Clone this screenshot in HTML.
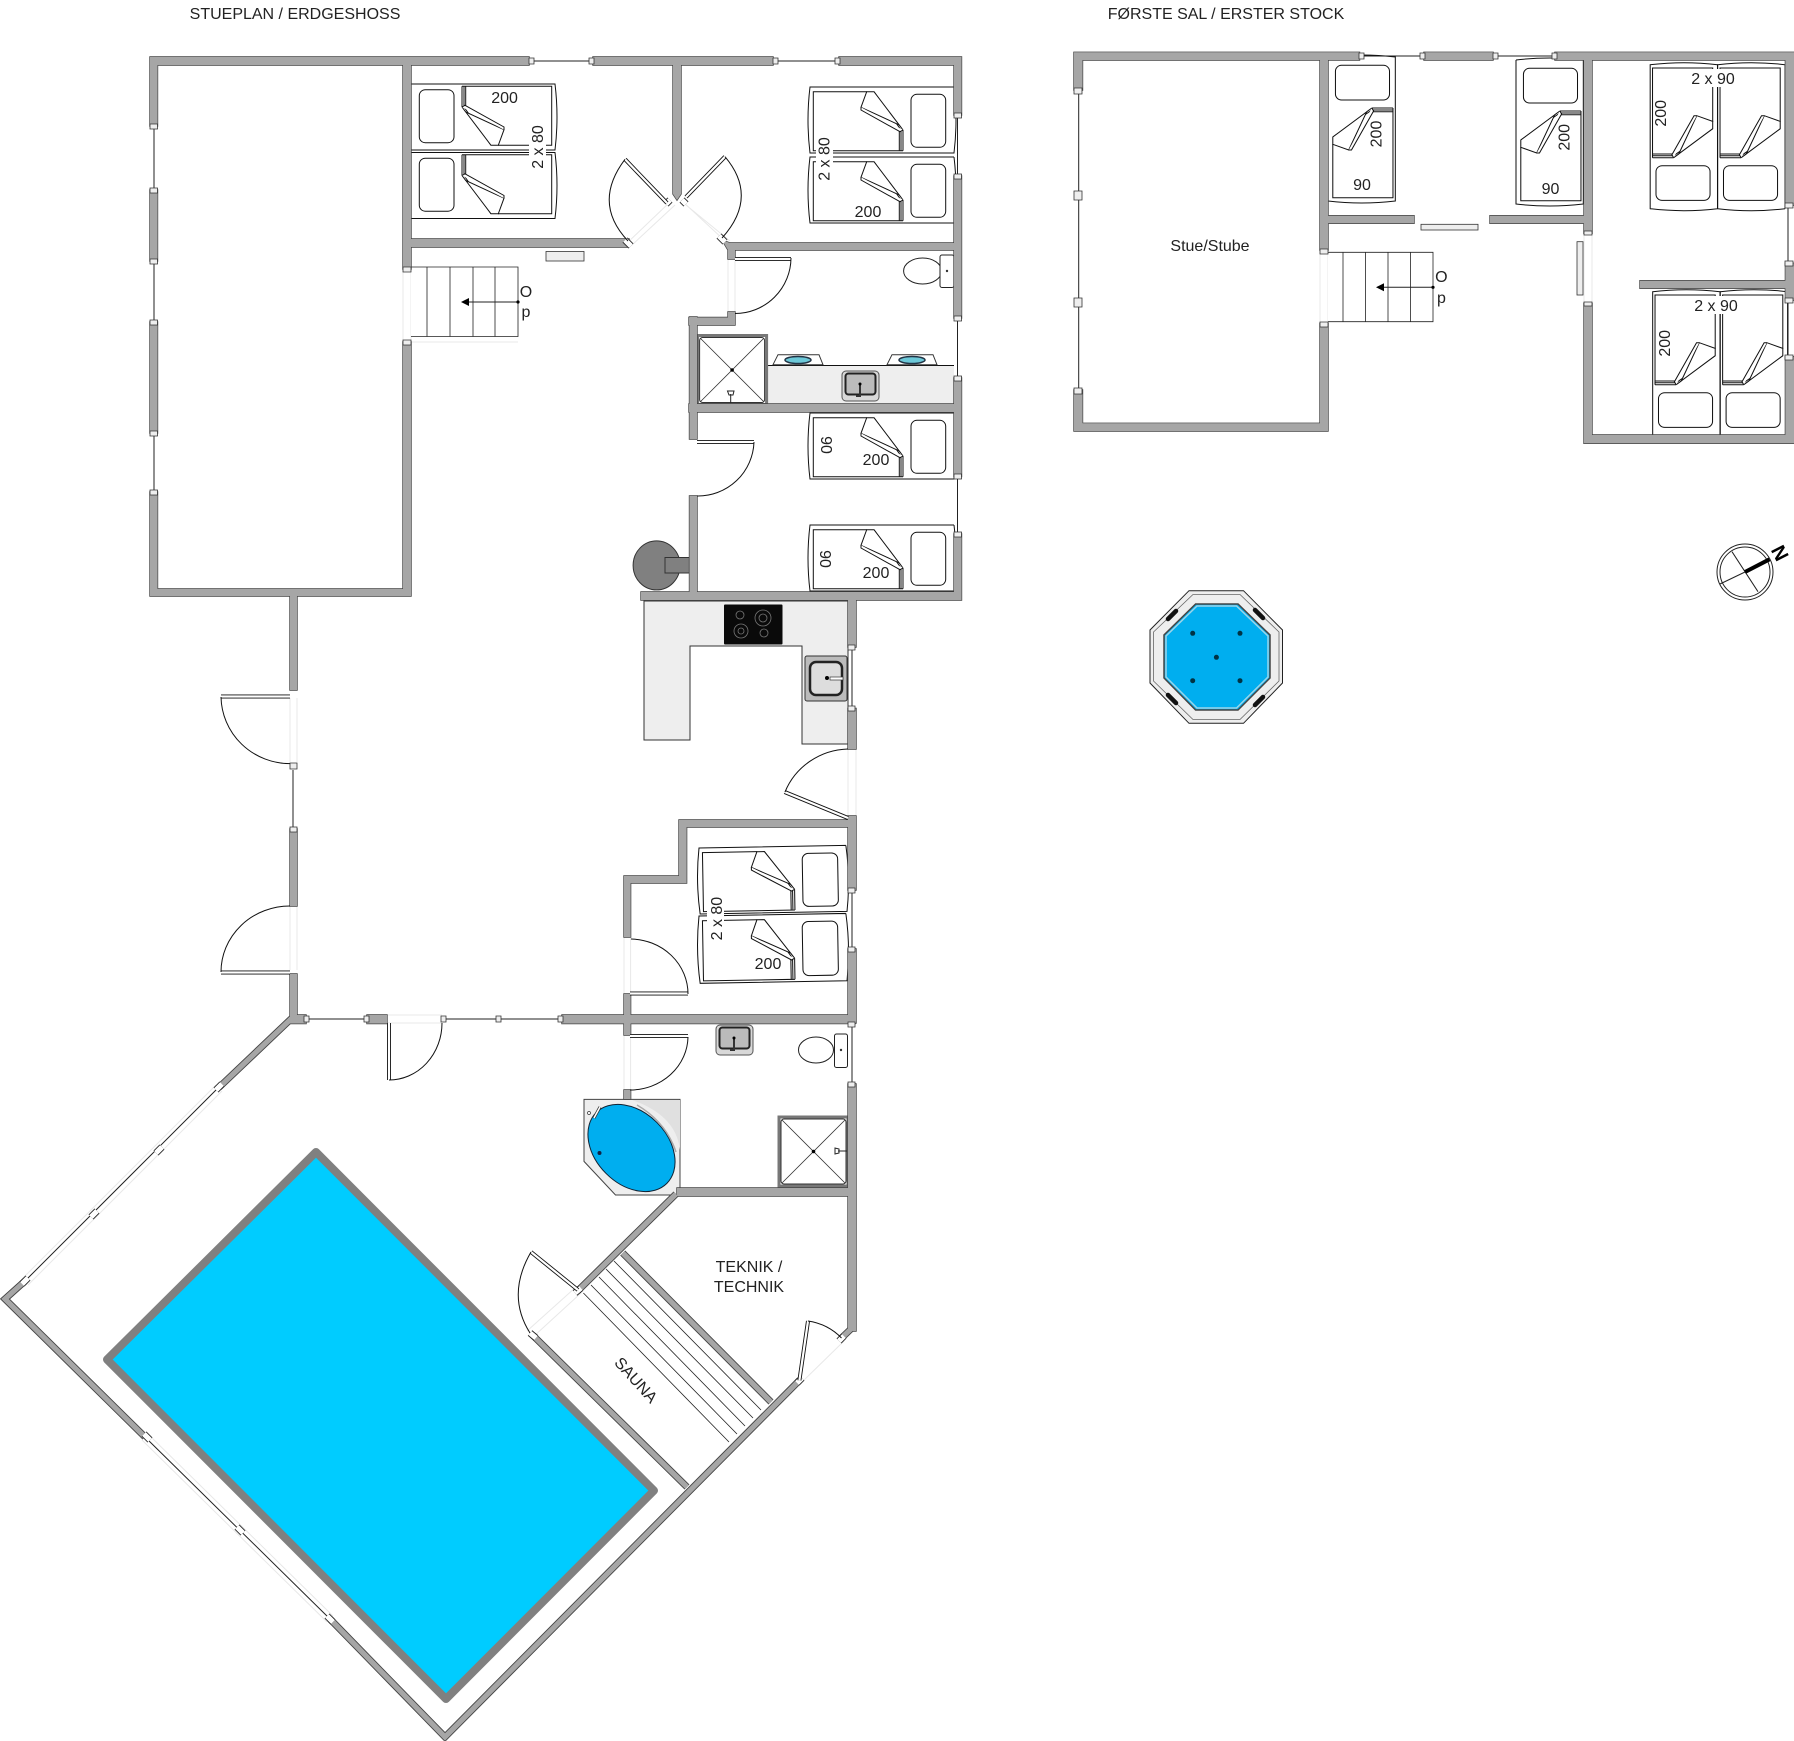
<!DOCTYPE html>
<html><head><meta charset="utf-8"><style>
html,body{margin:0;padding:0;background:#fff}
svg{display:block}
text{font-family:"Liberation Sans",sans-serif;font-size:16px;fill:#222;text-anchor:middle}
</style></head><body>
<svg width="1794" height="1741" viewBox="0 0 1794 1741" xmlns="http://www.w3.org/2000/svg">
<defs>
<g id="bed" fill="#fff" stroke="#111" stroke-width="1">
<path d="M144 0H0Q-4 33 0 66H144Q148 33 144 0" fill="none"/>
<rect x="101" y="7.3" width="34.7" height="53" rx="6"/>
<path d="M93 63.7H3.3V4.7H57M64 4.7L91 43V63.7M89.3 43V63.7M93 43V63.7" fill="none"/>
<path d="M56.7 4.7H64L93 43L89.3 38L51 20.3Z"/>
<path d="M51 20.3L51 23L90 44.7L93 43" fill="#fff"/>
</g>
<g id="shower">
<rect x="0" y="0" width="69" height="69" fill="#fff" stroke="#777" stroke-width="3"/>
<rect x="2" y="2" width="65" height="65" rx="3" fill="#fff" stroke="#333" stroke-width="1"/>
<path d="M3 3L66 66M66 3L3 66" stroke="#333" stroke-width=".8" fill="none"/>
<circle cx="34.5" cy="34.5" r="1.8" fill="#000"/>
</g>
<g id="sink">
<rect x="0" y="0" width="37" height="30" rx="4" fill="#d8d8d8" stroke="#555"/>
<rect x="3.5" y="2.5" width="30" height="21" rx="3" fill="#bbb" stroke="#222" stroke-width="2"/>
<path d="M18 14V25H14" fill="none" stroke="#333" stroke-width="2"/>
<circle cx="18" cy="13" r="1.5" fill="#000"/>
</g>
<path id="walls" d="
M150 57H529V65H150ZM593 57H773V65H593ZM839 57H961.5V65H839Z
M150 57H157.5V126H150ZM150 190H157.5V261H150ZM150 322H157.5V433H150ZM150 492H157.5V596H150Z
M150 589H411V596H150Z
M403 57H411V269H403ZM403 342H411V596H403Z
M673 65H681V194L677 200L673 194Z
M411 239H629V247H411Z
M722 240L730 243H954V250H728V259H735V250H728Z
M728 312H735V325H728ZM689 317.5H735V325H689Z
M689.5 317H697V439H689.5ZM689.5 496H697V595H689.5Z
M954 57H961.5V115H954ZM954 176H961.5V318H954ZM954 378H961.5V476.5H954ZM954 534H961.5V600H954Z
M689 404H954V412H689Z
M641 592H961.5V600H641Z
M290 596H297V690H290ZM290 829H297V906H290ZM290 974H297V1023H290Z
M290 1015H306V1023.5H290ZM367 1015H387V1023.5H367ZM562 1015H855V1023.5H562Z
M848 600H856V647H848ZM848 708.5H856V749H848ZM848 816H856V890H848ZM848 949H856V1023H848ZM848 1084H856V1331H848Z
M679 820H855V827H679ZM679 820H686.6V883H679ZM624 876H686.6V883H624ZM624 876H630.6V937H624ZM624 994H630.6V1035H624ZM624 1090H630.6V1099H624Z
M677 1188H848V1196H677Z
M1074 52.3H1359.5V60H1074ZM1424 52.3H1493V60H1424ZM1555 52.3H1794V60H1555Z
M1074 52.3H1082.5V90H1074ZM1074 390H1082.5V431H1074Z
M1074 423.3H1328V431H1074Z
M1320 52.3H1328V250H1320ZM1320 323.3H1328V431H1320Z
M1328 215.7H1414V223.3H1328ZM1490 215.7H1592V223.3H1490Z
M1584 52.3H1592V233.3H1584ZM1584 303.3H1592V443.3H1584Z
M1584 435H1794V443.3H1584Z
M1785.4 52.3H1794V205H1785.4ZM1785.4 263.3H1794V300H1785.4ZM1785.4 356.7H1794V443.3H1785.4Z
M1640 280.7H1790V288.3H1640Z"/>
<path id="diag" fill="none" stroke-linejoin="miter" d="
M292 1018L219 1087.4M25 1281L5 1299L145 1437M330 1619L445 1737L799.4 1380.4M841.5 1338L852 1328
M676 1194L578 1290.6M533 1335.5L687 1487M622.7 1253L771 1402"/>
<path id="leaves" fill="none" d="
M667 203L625 159.3M686 197L725 156.7
M735 259H791M697 442H754
M290 696.5H221M290 972.5H221M389 1023V1080
M630 993.5H688M630 1036H688
M848 818L784.6 792M578 1290L531 1252M799.4 1380.4L808 1321"/>
<path id="dcaps" fill="none" d="
M216 1090L222 1084M156 1153L162 1147M91 1217L97 1211M22 1284L28 1278
M144 1434L150 1440M237 1527L243 1533M327 1616L333 1622
M666 204L670 200M682 200L686 204M625 240L631 246M719 236L725 242M575 1293L581 1288M530 1333L536 1338M797 1383L802 1378M839 1341L844 1336"/>
</defs>

<!-- pool -->
<polygon points="316,1152 107,1359.5 446,1699 654,1490.6" fill="#00ccff" stroke="#808080" stroke-width="8" stroke-linejoin="round"/>

<!-- faint opening lines -->
<path fill="none" stroke="#e8e8e8" stroke-width="1" d="M403 269V342M411 269V342M728 259V312M735 259V312M625 245L670 202M632 245L675 205M725 241L681 200M730 241L686 205M290 698V762M297 698V762M290 906V970M297 906V970M848 749V816M856 749V816M624 937V994M630.6 937V994M624 1035V1090M630.6 1035V1090M387 1015H442M387 1023H442M527 1331L576 1287M533 1337L581 1293M800 1384L844 1341M1320 250V323M1328 250V323M1584 233V303M1592 233V303M403 269H518M411 342H518M216 1085L22 1279M222 1091L28 1285M148 1434L333 1616M142 1440L327 1622"/>

<!-- windows -->
<path fill="none" stroke="#222" stroke-width="1" d="M154 126V190M154 261V322M154 433V492M529 61H593M773 61H839M957.5 115V176M957.5 318V378M957.5 476V534M293 770V829M306 1019H367M442 1019H562M852 647V708M852 890V949M852 1023V1084M219 1087L25 1281M145 1437L330 1619M1078.7 90V390M1359 56H1424M1493 56H1555M1788 205V263M1788 300V357"/>

<!-- counters -->
<path d="M644 601H848V744H802V646H690V740H644Z" fill="#eee" stroke="#333" stroke-width="1"/>
<rect x="766" y="366" width="188" height="38" fill="#eee" stroke="none"/>
<path d="M766 365.5H954" stroke="#111" stroke-width="1"/>
<path d="M778 354.7H819L823 364.7H773Z" fill="#fff" stroke="#333"/>
<path d="M892 354.7H933L937 364.7H887Z" fill="#fff" stroke="#333"/>
<ellipse cx="798" cy="360" rx="13" ry="3.5" fill="#6cc8d8" stroke="#234" stroke-width="1.5"/>
<ellipse cx="912" cy="360" rx="13" ry="3.5" fill="#6cc8d8" stroke="#234" stroke-width="1.5"/>
<use href="#sink" transform="translate(842,371)"/>
<use href="#sink" transform="translate(716,1025)"/>
<!-- kitchen sink -->
<rect x="805" y="656" width="42" height="45" rx="2" fill="#bbb" stroke="#333"/>
<rect x="810" y="662" width="32" height="33" rx="6" fill="#ddd" stroke="#222" stroke-width="2.5"/>
<circle cx="827" cy="678" r="2" fill="#000"/>
<rect x="830" y="677" width="13" height="3" fill="#fff" stroke="#333" stroke-width=".7"/>
<!-- hob -->
<rect x="724" y="604.5" width="58.5" height="40" rx="1" fill="#0a0a0a"/>
<g fill="none" stroke="#777" stroke-width=".8">
<circle cx="740" cy="615" r="4"/><circle cx="763" cy="618" r="8"/><circle cx="763" cy="618" r="4"/><circle cx="741" cy="631" r="7"/><circle cx="741" cy="631" r="3"/><circle cx="764" cy="633" r="4"/>
</g>

<!-- stairs -->
<g fill="#fff" stroke="#222" stroke-width=".8">
<rect x="411" y="267" width="107" height="69.5" stroke="none"/>
<path d="M411 267H518V336.5H411M427 267V336.5M450 267V336.5M473 267V336.5M495 267V336.5" fill="none"/>
<rect x="1328" y="252.3" width="105" height="69.4" stroke="none"/>
<path d="M1328 252.3H1433V321.7H1328M1343 252.3V321.7M1365.6 252.3V321.7M1388 252.3V321.7M1410.5 252.3V321.7" fill="none"/>
</g>
<path d="M518 302H466M1433 287.3H1382" stroke="#222" stroke-width="1"/>
<path d="M461 302L469 298V306ZM1376 287.3L1384 283.3V291.3Z" fill="#000"/>
<circle cx="518" cy="302" r="1.6" fill="#000"/><circle cx="1433" cy="287.3" r="1.6" fill="#000"/>

<!-- beds ground -->
<use href="#bed" transform="translate(555,150) rotate(180)"/>
<use href="#bed" transform="translate(555,218.5) rotate(180)"/>
<use href="#bed" transform="translate(810,87)"/>
<use href="#bed" transform="translate(810,157)"/>
<use href="#bed" transform="translate(810,413)"/>
<use href="#bed" transform="translate(810,525)"/>
<use href="#bed" transform="translate(699,848) rotate(-1) scale(1.02,1)"/>
<use href="#bed" transform="translate(699,916) rotate(-1) scale(1.02,1.02)"/>
<!-- beds upper -->
<use href="#bed" transform="translate(1328,201) rotate(-90) scale(1,1.02)"/>
<use href="#bed" transform="translate(1516,204) rotate(-90) scale(1,1.02)"/>
<use href="#bed" transform="translate(1717.5,64.7) rotate(90) scale(1,1.02)"/>
<use href="#bed" transform="translate(1785,64.7) rotate(90) scale(1,1.02)"/>
<use href="#bed" transform="translate(1720,291.7) rotate(90) scale(1,1.02)"/>
<use href="#bed" transform="translate(1787.6,291.7) rotate(90) scale(1,1.02)"/>

<!-- showers -->
<use href="#shower" transform="translate(697.6,335.5)"/>
<path d="M730.7 394V403M727.5 391H734L733 395H729Z" fill="#fff" stroke="#222"/>
<use href="#shower" transform="translate(779,1117)"/>
<path d="M847 1151H838M835 1148V1154L839 1153V1149Z" fill="#fff" stroke="#222"/>
<!-- toilets -->
<g fill="#fff" stroke="#222">
<ellipse cx="922.6" cy="271" rx="19" ry="13"/><rect x="940" y="255" width="14" height="32.5" rx="2"/>
<ellipse cx="816" cy="1050" rx="17.5" ry="13"/><rect x="834.5" y="1034" width="13" height="33.5" rx="2"/>
</g>
<circle cx="947" cy="271" r="1.2" fill="#333"/><circle cx="841" cy="1050" r="1.2" fill="#333"/>
<!-- tub -->
<polygon points="584,1099.4 680,1099.4 680,1195 615.5,1195 584,1161.4" fill="#eee" stroke="#444" stroke-width="1"/>
<path d="M632 1100H680V1150Q676 1115 632 1100Z" fill="#e0e0e0"/>
<ellipse cx="631.5" cy="1148" rx="50" ry="36" transform="rotate(45 631.5 1148)" fill="#00aeef" stroke="#123" stroke-width="1"/>
<path d="M637 1105Q666 1122 676 1152" fill="none" stroke="#aaa" stroke-width="1.5"/>
<path d="M594 1118L600 1107" stroke="#333" stroke-width="3"/>
<path d="M594 1118L600 1107" stroke="#fff" stroke-width="1.5"/>
<circle cx="589" cy="1113" r="1.5" fill="#fff" stroke="#333" stroke-width=".7"/>
<circle cx="599.5" cy="1153" r="2" fill="#124"/>

<!-- heater -->
<ellipse cx="656.6" cy="565.4" rx="23.5" ry="24.5" fill="#808080" stroke="#333"/>
<rect x="665" y="557.5" width="27" height="15.5" fill="#808080" stroke="#333"/>

<!-- sauna bench -->
<path fill="none" stroke="#222" stroke-width=".8" d="M614 1261L761 1410M606 1269L753 1418M599 1277L745 1426M591 1285L737 1434M583.4 1293L729 1442"/>

<!-- walls -->
<use href="#walls" fill="#444" stroke="#444" stroke-width="1.4"/>
<use href="#diag" stroke="#444" stroke-width="7"/>
<use href="#walls" fill="#a6a6a6"/>
<use href="#diag" stroke="#a6a6a6" stroke-width="5.2"/>

<!-- small wall-rects -->
<g fill="#eee" stroke="#333" stroke-width=".8">
<rect x="546" y="251.5" width="38" height="9.5"/>
<rect x="1421" y="224.3" width="57" height="5.7"/>
<rect x="1577" y="241.7" width="6" height="53.3"/>
</g>
<!-- window caps -->
<path fill="#eee" stroke="#333" stroke-width=".8" d="
M150 124h7.5v5h-7.5ZM150 188h7.5v5h-7.5ZM150 259h7.5v5h-7.5ZM150 320h7.5v5h-7.5ZM150 431h7.5v5h-7.5ZM150 490h7.5v5h-7.5Z
M529 58h5v6h-5ZM589 58h5v6h-5ZM773 58h5v6h-5ZM835 58h5v6h-5Z
M954 113h7.5v5h-7.5ZM954 174h7.5v5h-7.5ZM954 316h7.5v5h-7.5ZM954 376h7.5v5h-7.5ZM954 474h7.5v5h-7.5ZM954 532h7.5v5h-7.5Z
M403 267h8v5h-8ZM403 340h8v5h-8Z
M290 763h7v6h-7ZM290 827h7v5h-7ZM304 1016h5v6h-5ZM364 1016h5v6h-5ZM441 1016h5v6h-5ZM496 1016h5v6h-5ZM558 1016h5v6h-5Z
M848 645h7v5h-7ZM848 706h7v5h-7ZM848 888h7v5h-7ZM848 947h7v5h-7ZM848 1022h7v5h-7ZM848 1082h7v5h-7Z
M1074 88h8v6h-8ZM1074 191h8v9h-8ZM1074 298h8v9h-8ZM1074 388h8v6h-8Z
M1359 53h5v6h-5ZM1420 53h5v6h-5ZM1493 53h5v6h-5ZM1552 53h5v6h-5Z
M1320 249h8v5h-8ZM1320 322h8v5h-8ZM1584 231h8v4h-8ZM1584 302h8v4h-8ZM1785 203h8v5h-8ZM1785 261h8v5h-8ZM1785 298h8v5h-8ZM1785 355h8v5h-8Z"/>
<use href="#dcaps" stroke="#222" stroke-width="7"/>
<use href="#dcaps" stroke="#fff" stroke-width="5.2"/>

<!-- door leaves and arcs -->
<use href="#leaves" stroke="#111" stroke-width="4"/>
<use href="#leaves" stroke="#fff" stroke-width="2.2"/>
<path fill="none" stroke="#111" stroke-width="1" d="
M625 159.3Q592 203 628 241M725 156.7Q759 197 722 238
M791 258A56 56 0 0 1 735 313.5M754 442A56 56 0 0 1 697 496
M221 697A69 68 0 0 0 290 763.6M290 906A69 66 0 0 0 221 972
M389 1080A53 57 0 0 0 442 1023
M631 939A58 55 0 0 1 688 994M688 1037A58 54 0 0 1 630 1090
M848 749A70 68 0 0 0 785 792
M531 1252Q506 1295 530 1333M808 1321Q828 1324 841.5 1338"/>

<!-- spa -->
<polygon points="1189,590.7 1243.5,590.7 1282.5,630 1282.5,683 1243.5,723.3 1189,723.3 1150,683 1150,630" fill="#eee" stroke="#222" stroke-width="1"/>
<polygon points="1193,594.5 1240,594.5 1279,632 1279,681 1240,719.5 1193,719.5 1153.5,681 1153.5,632" fill="none" stroke="#666" stroke-width=".8"/>
<polygon points="1195.6,604 1238,604 1270,635 1270,678 1238,710 1195.6,710 1164,678 1164,635" fill="#00aeef" stroke="#444" stroke-width="1.5"/>
<polygon points="1197,606 1236.5,606 1268,636 1268,677 1236.5,708 1197,708 1166,677 1166,636" fill="none" stroke="#9cd4e8" stroke-width="1.5"/>
<g fill="#034"><circle cx="1192.7" cy="633.3" r="2.5"/><circle cx="1240" cy="633.3" r="2.5"/><circle cx="1216.4" cy="657.3" r="2.5"/><circle cx="1192.7" cy="680.7" r="2.5"/><circle cx="1240" cy="680.7" r="2.5"/></g>
<g stroke="#111" stroke-width="4.5" stroke-linecap="round"><path d="M1168 619L1176 611M1255 610L1263 618M1168 695L1176 703M1255 705L1263 697"/></g>

<!-- compass -->
<g fill="none" stroke="#222" stroke-width="1"><circle cx="1745" cy="572" r="28"/><circle cx="1745" cy="572" r="25"/><path d="M1732 551.7L1758 591.7M1720 584L1745 572"/></g>
<path d="M1745 572L1769.5 559.3" stroke="#000" stroke-width="4"/>
<text transform="translate(1780,553) rotate(63) translate(0,7)" style="font-weight:bold;font-size:20px;fill:#000">N</text>

<!-- labels -->
<text x="295" y="19">STUEPLAN / ERDGESHOSS</text>
<text x="1226" y="19">FØRSTE SAL / ERSTER STOCK</text>
<text x="1210" y="251">Stue/Stube</text>
<text x="526" y="297">O</text><text x="526" y="317">p</text>
<text x="1441.4" y="282">O</text><text x="1441.4" y="303">p</text>
<text x="504.6" y="103">200</text>
<text x="868" y="217">200</text>
<text x="876" y="465">200</text>
<text x="876" y="578">200</text>
<text x="768" y="969">200</text>
<text x="1362" y="190">90</text>
<text x="1550.5" y="194">90</text>
<g>
<rect x="529" y="125" width="17" height="44" fill="#fff"/>
<text transform="translate(543,147) rotate(-90)">2 x 80</text>
<rect x="816" y="137" width="17" height="44" fill="#fff"/>
<text transform="translate(829.5,159) rotate(-90)">2 x 80</text>
<rect x="707" y="897" width="17" height="44" fill="#fff"/>
<text transform="translate(722,918.6) rotate(-90)">2 x 80</text>
<text transform="translate(821,445) rotate(90)">90</text>
<text transform="translate(820,559) rotate(90)">90</text>
<text transform="translate(1381.5,134) rotate(-90)">200</text>
<text transform="translate(1569.5,137.3) rotate(-90)">200</text>
<text transform="translate(1666,113.3) rotate(-90)">200</text>
<text transform="translate(1670,343.3) rotate(-90)">200</text>
<rect x="1690" y="69" width="46" height="18" fill="#fff"/>
<text x="1713" y="84">2 x 90</text>
<rect x="1693" y="296" width="46" height="18" fill="#fff"/>
<text x="1716" y="311">2 x 90</text>
<text x="749" y="1272">TEKNIK /</text>
<text x="749" y="1292">TECHNIK</text>
<text transform="translate(636,1380) rotate(48) translate(0,5.5)">SAUNA</text>
</g>
</svg>
</body></html>
